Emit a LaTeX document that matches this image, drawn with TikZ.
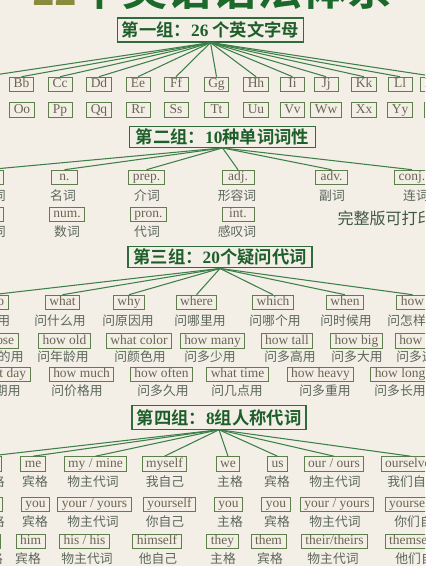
\documentclass[tikz,border=0pt]{standalone}
\usepackage{fontspec}
\setmainfont{Liberation Serif}
\newfontfamily\cjk{Noto Sans CJK SC}
\newfontfamily\cjkbold{Noto Sans CJK SC Bold}

\definecolor{paper}{HTML}{F3EFE7}
\definecolor{titlegreen}{HTML}{1C6A2B}
\definecolor{titleolive}{HTML}{8A8A3C}
\definecolor{hdrline}{HTML}{2F6B3B}
\definecolor{hdrtext}{HTML}{1E5E2A}
\definecolor{fangreen}{HTML}{3E8049}
\definecolor{boxline}{HTML}{5E7E4B}
\definecolor{wordtext}{HTML}{6A6552}
\definecolor{lbltext}{HTML}{5C665A}
\definecolor{notetext}{HTML}{3E5744}

\tikzset{every picture/.style={line width=0.75pt}}
\tikzset{
  hdrbox/.style={draw=hdrline, line width=0.9pt, text=hdrtext, font=\cjkbold\fontsize{13}{15}\selectfont, inner sep=0pt},
  wordbox/.style={draw=boxline, line width=0.7pt, text=wordtext, font=\fontsize{10.1}{12}\selectfont, inner xsep=3pt, inner ysep=0pt, text height=7.2pt, text depth=2.3pt, minimum height=11pt},
  letterbox/.style={wordbox, minimum width=18pt},
  tagbox/.style={wordbox, minimum width=24pt},
  cnlabel/.style={text=lbltext, font=\cjk\fontsize{9.6}{11}\selectfont, inner sep=0pt},
  fanline/.style={draw=fangreen, line width=0.8pt},
}

\begin{document}
\begin{tikzpicture}[x=0.75pt,y=0.75pt,yscale=-1,xscale=1]
\path [use as bounding box] (0,0) rectangle (425,566);
\clip (0,0) rectangle (425,566);
\fill [paper] (0,0) rectangle (425,566);

% Title (cut off at the top)
\draw (212,5.5) node [anchor=base, inner sep=0pt, text=titlegreen, font=\cjkbold\fontsize{33.75}{36}\selectfont] (title) {{\color{titleolive}\bfseries\rmfamily 22}个英语语法体系};

% Group 1
\draw (210.5,30) node [hdrbox, minimum width=140pt, minimum height=18pt] (g1) {第一组：{\bfseries\rmfamily 26} 个英文字母};
\draw (-17,84.5) node [letterbox] (aa) {Aa};
\draw (21.5,84.5) node [letterbox] (bb) {Bb};
\draw (60,84.5) node [letterbox] (cc) {Cc};
\draw (99,84.5) node [letterbox] (dd) {Dd};
\draw (138,84.5) node [letterbox] (ee) {Ee};
\draw (176,84.5) node [letterbox] (ff) {Ff};
\draw (216.5,84.5) node [letterbox] (gg) {Gg};
\draw (256,84.5) node [letterbox] (hh) {Hh};
\draw (292.5,84.5) node [letterbox] (ii) {Ii};
\draw (326,84.5) node [letterbox] (jj) {Jj};
\draw (364,84.5) node [letterbox] (kk) {Kk};
\draw (400,84.5) node [letterbox] (ll) {Ll};
\draw (436,84.5) node [letterbox] (mm) {Mm};
\draw (-17,110) node [letterbox] (nn) {Nn};
\draw (22,110) node [letterbox] (oo) {Oo};
\draw (60,110) node [letterbox] (pp) {Pp};
\draw (99,110) node [letterbox] (qq) {Qq};
\draw (138,110) node [letterbox] (rr) {Rr};
\draw (176,110) node [letterbox] (ss) {Ss};
\draw (216.5,110) node [letterbox] (tt) {Tt};
\draw (256,110) node [letterbox] (uu) {Uu};
\draw (292.5,110) node [letterbox] (vv) {Vv};
\draw (326,110) node [letterbox] (ww) {Ww};
\draw (364,110) node [letterbox] (xx) {Xx};
\draw (400,110) node [letterbox] (yy) {Yy};
\draw (436,110) node [letterbox] (zz) {Zz};

\draw [fanline] (g1.south) -- (aa.north);
\draw [fanline] (g1.south) -- (bb.north);
\draw [fanline] (g1.south) -- (cc.north);
\draw [fanline] (g1.south) -- (dd.north);
\draw [fanline] (g1.south) -- (ee.north);
\draw [fanline] (g1.south) -- (ff.north);
\draw [fanline] (g1.south) -- (gg.north);
\draw [fanline] (g1.south) -- (hh.north);
\draw [fanline] (g1.south) -- (ii.north);
\draw [fanline] (g1.south) -- (jj.north);
\draw [fanline] (g1.south) -- (kk.north);
\draw [fanline] (g1.south) -- (ll.north);
\draw [fanline] (g1.south) -- (mm.north);

% Group 2
\draw (222.5,137) node [hdrbox, minimum width=139pt, minimum height=15.5pt] (g2) {第二组：{\bfseries\rmfamily 10}种单词词性};
\draw (-13,177.5) node [tagbox] (verb) {v.};
\draw (64.5,177.5) node [tagbox, minimum width=19pt] (noun) {n.};
\draw (146.5,177.5) node [tagbox] (prep) {prep.};
\draw (238,177.5) node [tagbox] (adj) {adj.};
\draw (331.5,177.5) node [tagbox] (adv) {adv.};
\draw (412,177.5) node [tagbox] (conj) {conj.};
\draw (-7,196) node [cnlabel] (verb-l) {动词};
\draw (63,196) node [cnlabel] (noun-l) {名词};
\draw (147,196) node [cnlabel] (prep-l) {介词};
\draw (237,196) node [cnlabel] (adj-l) {形容词};
\draw (332,196) node [cnlabel] (adv-l) {副词};
\draw (416,196) node [cnlabel] (conj-l) {连词};
\draw (-13,214.5) node [tagbox] (art) {art.};
\draw (67,214.5) node [tagbox] (num) {num.};
\draw (148.5,214.5) node [tagbox] (pron) {pron.};
\draw (238,214.5) node [tagbox] (intj) {int.};
\draw (-7,232) node [cnlabel] (art-l) {冠词};
\draw (67,232) node [cnlabel] (num-l) {数词};
\draw (147,232) node [cnlabel] (pron-l) {代词};
\draw (237,232) node [cnlabel] (intj-l) {感叹词};
\draw (337,218) node [anchor=west, inner sep=0pt, text=notetext, font=\cjk\fontsize{12}{14}\selectfont] (note) {完整版可打印};

\draw [fanline] (g2.south) -- (verb.north);
\draw [fanline] (g2.south) -- (noun.north);
\draw [fanline] (g2.south) -- (prep.north);
\draw [fanline] (g2.south) -- (adj.north);
\draw [fanline] (g2.south) -- (adv.north);
\draw [fanline] (g2.south) -- (conj.north);

% Group 3
\draw (220,257) node [hdrbox, minimum width=138pt, minimum height=16.3pt] (g3) {第三组：{\bfseries\rmfamily 20}个疑问代词};
\draw (-7.5,302.5) node [wordbox] (who) {who};
\draw (62.5,302.5) node [wordbox] (what) {what};
\draw (129,302.5) node [wordbox] (why) {why};
\draw (196.5,302.5) node [wordbox] (where) {where};
\draw (273,302.5) node [wordbox] (which) {which};
\draw (345,302.5) node [wordbox] (when) {when};
\draw (412.5,302.5) node [wordbox] (how) {how};
\draw (-9,321) node [cnlabel] (who-l) {问谁用};
\draw (60,321) node [cnlabel] (what-l) {问什么用};
\draw (128,321) node [cnlabel] (why-l) {问原因用};
\draw (200,321) node [cnlabel] (where-l) {问哪里用};
\draw (275,321) node [cnlabel] (which-l) {问哪个用};
\draw (346,321) node [cnlabel] (when-l) {问时候用};
\draw (413,321) node [cnlabel] (how-l) {问怎样用};
\draw (-3,341) node [wordbox] (whose) {whose};
\draw (64.5,341) node [wordbox] (howold) {how old};
\draw (139,341) node [wordbox] (whatcolor) {what color};
\draw (212.5,341) node [wordbox] (howmany) {how many};
\draw (287,341) node [wordbox] (howtall) {how tall};
\draw (356.5,341) node [wordbox] (howbig) {how big};
\draw (420,341) node [wordbox] (howfar) {how far};
\draw (-2,357) node [cnlabel] (whose-l) {问谁的用};
\draw (63,357) node [cnlabel] (howold-l) {问年龄用};
\draw (140,357) node [cnlabel] (whatcolor-l) {问颜色用};
\draw (210,357) node [cnlabel] (howmany-l) {问多少用};
\draw (290,357) node [cnlabel] (howtall-l) {问多高用};
\draw (357,357) node [cnlabel] (howbig-l) {问多大用};
\draw (422,357) node [cnlabel] (howfar-l) {问多远用};
\draw (1.5,374.5) node [wordbox] (whatday) {what day};
\draw (81.5,374.5) node [wordbox] (howmuch) {how much};
\draw (161.5,374.5) node [wordbox] (howoften) {how often};
\draw (237.5,374.5) node [wordbox] (whattime) {what time};
\draw (320.5,374.5) node [wordbox] (howheavy) {how heavy};
\draw (400,374.5) node [wordbox] (howlong) {how long};
\draw (-5,391) node [cnlabel] (whatday-l) {问星期用};
\draw (77,391) node [cnlabel] (howmuch-l) {问价格用};
\draw (163,391) node [cnlabel] (howoften-l) {问多久用};
\draw (237,391) node [cnlabel] (whattime-l) {问几点用};
\draw (325,391) node [cnlabel] (howheavy-l) {问多重用};
\draw (400,391) node [cnlabel] (howlong-l) {问多长用};

\draw [fanline] (g3.south) -- (who.north);
\draw [fanline] (g3.south) -- (what.north);
\draw [fanline] (g3.south) -- (why.north);
\draw [fanline] (g3.south) -- (where.north);
\draw [fanline] (g3.south) -- (which.north);
\draw [fanline] (g3.south) -- (when.north);
\draw [fanline] (g3.south) -- (how.north);

% Group 4
\draw (219,417.5) node [hdrbox, minimum width=130.5pt, minimum height=17.5pt] (g4) {第四组：{\bfseries\rmfamily 8}组人称代词};
\draw (-12,464) node [wordbox, minimum width=20pt] (pi) {I};
\draw (33,464) node [wordbox] (me) {me};
\draw (95.5,464) node [wordbox] (mymine) {my / mine};
\draw (164.5,464) node [wordbox] (myself) {myself};
\draw (228,464) node [wordbox] (we) {we};
\draw (277.5,464) node [wordbox] (us) {us};
\draw (334,464) node [wordbox] (ourours) {our / ours};
\draw (410.5,464) node [wordbox] (ourselves) {ourselves};
\draw (-8,482) node [cnlabel] (pi-l) {主格};
\draw (35,482) node [cnlabel] (me-l) {宾格};
\draw (93,482) node [cnlabel] (mymine-l) {物主代词};
\draw (165,482) node [cnlabel] (myself-l) {我自己};
\draw (230,482) node [cnlabel] (we-l) {主格};
\draw (277,482) node [cnlabel] (us-l) {宾格};
\draw (335,482) node [cnlabel] (ourours-l) {物主代词};
\draw (413,482) node [cnlabel] (ourselves-l) {我们自己};
\draw (-12,504.5) node [wordbox] (youa) {you};
\draw (35.5,504.5) node [wordbox] (youb) {you};
\draw (94.5,504.5) node [wordbox] (youryours) {your / yours};
\draw (169.5,504.5) node [wordbox] (yourself) {yourself};
\draw (228.5,504.5) node [wordbox] (youc) {you};
\draw (276,504.5) node [wordbox] (youd) {you};
\draw (337,504.5) node [wordbox] (youryoursb) {your / yours};
\draw (418,504.5) node [wordbox] (yourselves) {yourselves};
\draw (-8,522) node [cnlabel] (youa-l) {主格};
\draw (35,522) node [cnlabel] (youb-l) {宾格};
\draw (93,522) node [cnlabel] (youryours-l) {物主代词};
\draw (165,522) node [cnlabel] (yourself-l) {你自己};
\draw (230,522) node [cnlabel] (youc-l) {主格};
\draw (277,522) node [cnlabel] (youd-l) {宾格};
\draw (335,522) node [cnlabel] (youryoursb-l) {物主代词};
\draw (420,522) node [cnlabel] (yourselves-l) {你们自己};
\draw (-10,541.5) node [wordbox] (he) {he};
\draw (30.5,541.5) node [wordbox] (him) {him};
\draw (84.5,541.5) node [wordbox] (hishis) {his / his};
\draw (157,541.5) node [wordbox] (himself) {himself};
\draw (222.5,541.5) node [wordbox] (they) {they};
\draw (268.5,541.5) node [wordbox] (them) {them};
\draw (334.5,541.5) node [wordbox] (theirtheirs) {their/theirs};
\draw (419,541.5) node [wordbox] (themselves) {themselves};
\draw (-10,559) node [cnlabel] (he-l) {主格};
\draw (28,559) node [cnlabel] (him-l) {宾格};
\draw (87,559) node [cnlabel] (hishis-l) {物主代词};
\draw (158,559) node [cnlabel] (himself-l) {他自己};
\draw (223,559) node [cnlabel] (they-l) {主格};
\draw (270,559) node [cnlabel] (them-l) {宾格};
\draw (333,559) node [cnlabel] (theirtheirs-l) {物主代词};
\draw (421,559) node [cnlabel] (themselves-l) {他们自己};

\draw [fanline] (g4.south) -- (pi.north);
\draw [fanline] (g4.south) -- (me.north);
\draw [fanline] (g4.south) -- (mymine.north);
\draw [fanline] (g4.south) -- (myself.north);
\draw [fanline] (g4.south) -- (we.north);
\draw [fanline] (g4.south) -- (us.north);
\draw [fanline] (g4.south) -- (ourours.north);
\draw [fanline] (g4.south) -- (ourselves.north);

\end{tikzpicture}
\end{document}
